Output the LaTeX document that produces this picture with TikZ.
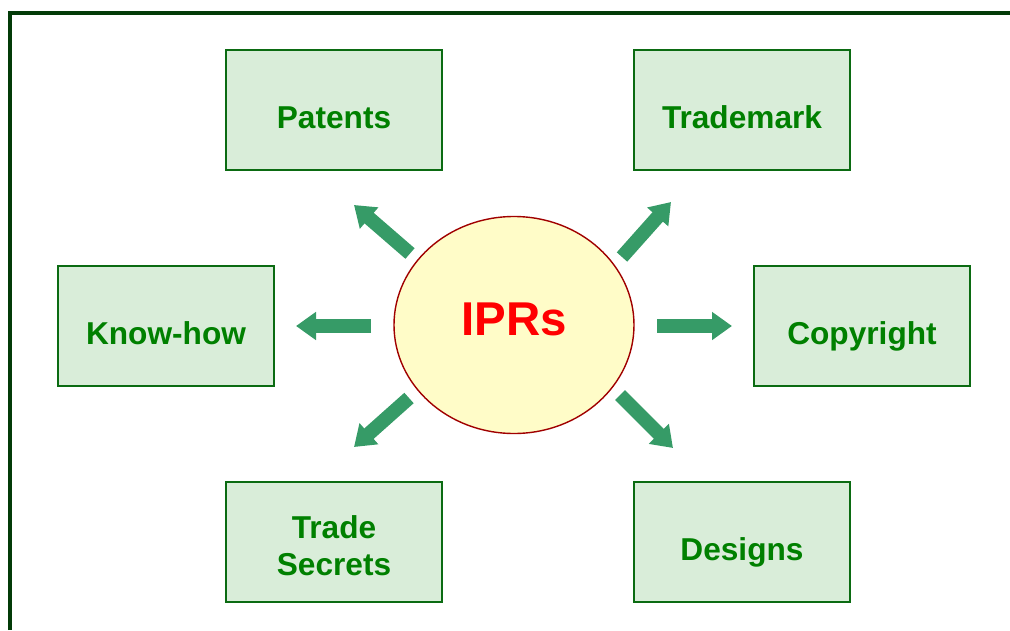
\documentclass[tikz,border=0pt]{standalone}
\usepackage{fontspec}
\setmainfont{Liberation Sans}
\usetikzlibrary{arrows.meta,shapes.geometric}

\definecolor{framegreen}{HTML}{033B08}
\definecolor{boxfill}{HTML}{D9EDD9}
\definecolor{boxline}{HTML}{0B6B12}
\definecolor{textgreen}{HTML}{008000}
\definecolor{arrowgreen}{HTML}{369B67}
\definecolor{ellfill}{HTML}{FFFCC8}
\definecolor{ellline}{HTML}{A00000}

\tikzset{
  iprbox/.style={align=center,rectangle,draw=boxline,line width=1.1pt,fill=boxfill,text=textgreen,font=\bfseries\fontsize{18}{21}\selectfont,minimum width=4.32cm,minimum height=2.4cm,text height=0.73cm,text depth=0pt},
  iprcore/.style={ellipse,draw=ellline,line width=0.8pt,fill=ellfill,text=red,font=\bfseries\fontsize{27}{30}\selectfont,minimum width=4.8cm,minimum height=4.34cm,inner sep=0pt,text height=0.4cm,text depth=0pt},
  blockarrow/.style={draw=arrowgreen,line width=0.28cm,-{Triangle[width=0.54cm,length=0.4cm]}}
}

\begin{document}
\begin{tikzpicture}

\useasboundingbox (0,0) rectangle (20.2,12.6);

\draw[framegreen,line width=0.08cm] (0.2,0) -- (0.2,12.34) -- (20.2,12.34);

\draw(10.28,6.1) node[iprcore](0){IPRs};

\draw(6.68,10.4) node[iprbox](1){Patents};

\draw(14.84,10.4) node[iprbox](2){Trademark};

\draw(3.32,6.08) node[iprbox](3){Know-how};

\draw(17.24,6.08) node[iprbox](4){Copyright};

\draw(6.68,1.76) node[iprbox,text height=1.32cm](5){Trade\\Secrets};

\draw(14.84,1.76) node[iprbox](6){Designs};

\coordinate (t1) at (8.2,7.53);  \coordinate (h1) at (7.08,8.5);
\coordinate (t2) at (12.44,7.46); \coordinate (h2) at (13.42,8.56);
\coordinate (t3) at (7.42,6.08); \coordinate (h3) at (5.92,6.08);
\coordinate (t4) at (13.14,6.08); \coordinate (h4) at (14.64,6.08);
\coordinate (t5) at (8.18,4.64); \coordinate (h5) at (7.08,3.66);
\coordinate (t6) at (12.4,4.7);  \coordinate (h6) at (13.46,3.64);

\draw [blockarrow] (t1) -- (h1);
\draw [blockarrow] (t2) -- (h2);
\draw [blockarrow] (t3) -- (h3);
\draw [blockarrow] (t4) -- (h4);
\draw [blockarrow] (t5) -- (h5);
\draw [blockarrow] (t6) -- (h6);

\end{tikzpicture}
\end{document}
